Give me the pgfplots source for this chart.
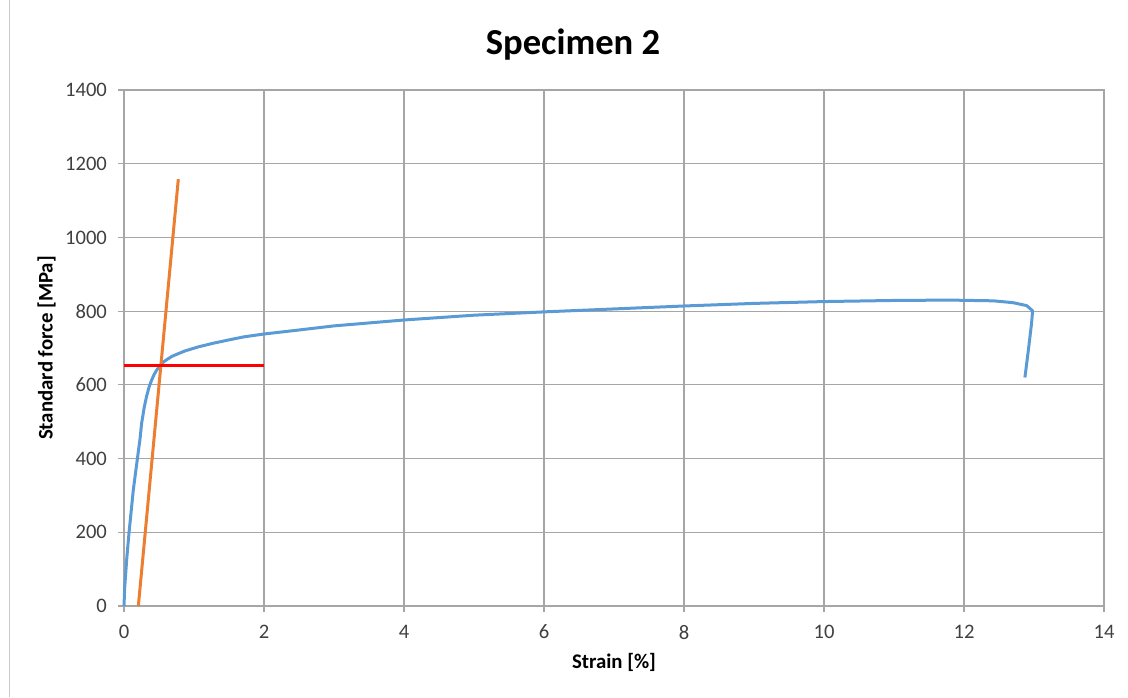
\documentclass[border=0pt]{standalone}
\usepackage{fontspec}
\setmainfont{Carlito}
\usepackage{pgfplots}
\pgfplotsset{compat=1.18}
\definecolor{gridgray}{HTML}{A6A6A6}
\definecolor{tickgray}{HTML}{404040}
\definecolor{xlblue}{HTML}{5B9BD5}
\definecolor{xlorange}{HTML}{ED7D31}
\begin{document}
\begin{tikzpicture}
\path[use as bounding box] (-62pt,-45.5pt) rectangle (502pt,303pt);
\draw[gridgray!60, line width=0.5pt] (-57pt,-45.5pt) -- (-57pt,303pt);
\begin{axis}[
  scale only axis,
  width=490pt, height=258pt,
  at={(0pt,0pt)}, anchor=south west,
  xmin=0, xmax=14, ymin=0, ymax=1400,
  xtick={0,2,...,14}, ytick={0,200,...,1400},
  grid=major,
  major grid style={gridgray, line width=0.6pt},
  axis line style={gridgray, line width=0.6pt},
  tick style={gridgray, line width=0.6pt},
  tick align=outside,
  major tick length=3pt,
  xtick pos=bottom, ytick pos=left,
  /pgf/number format/assume math mode=true,
  /pgf/number format/1000 sep={},
  ticklabel style={font=\fontsize{10.3}{12}\selectfont, text=tickgray},
  xticklabel style={yshift=-3pt},
  yticklabel style={xshift=-2pt},
  xlabel={Strain [\%]},
  ylabel={Standard force [MPa]},
  label style={font=\fontsize{10.4}{12}\selectfont\bfseries},
  xlabel style={at={(axis description cs:0.5,-0.11)}, anchor=center},
  ylabel style={at={(axis description cs:-0.079,0.5)}, anchor=center},
  clip=false,
]
\addplot[xlblue, line width=1.5pt, line join=round] coordinates {
(0,0) (0.01,50) (0.04,130) (0.071,197) (0.133,315) (0.195,405) (0.23,455)
(0.252,496) (0.29,540) (0.324,570) (0.36,595) (0.395,613) (0.43,628)
(0.467,640) (0.538,658) (0.6,667) (0.681,677) (0.78,685) (0.871,692)
(1.06,703) (1.276,713) (1.5,722) (1.705,730) (2.0,738) (2.37,746) (3,760)
(4,776) (5,789) (6,798) (7,806) (8,814) (9,821) (10,826) (11,829)
(11.8,830) (12.42,828) (12.70,823) (12.895,815) (12.98,801) (12.965,767)
(12.92,695) (12.87,620)
};
\addplot[xlorange, line width=1.5pt] coordinates {(0.205,0) (0.776,1158)};
\addplot[red, line width=1.5pt] coordinates {(0,652) (2,652)};
\end{axis}
\node[font=\fontsize{18.3}{22}\selectfont\bfseries] at (224.5pt,280.5pt) {Specimen 2};
\end{tikzpicture}
\end{document}
